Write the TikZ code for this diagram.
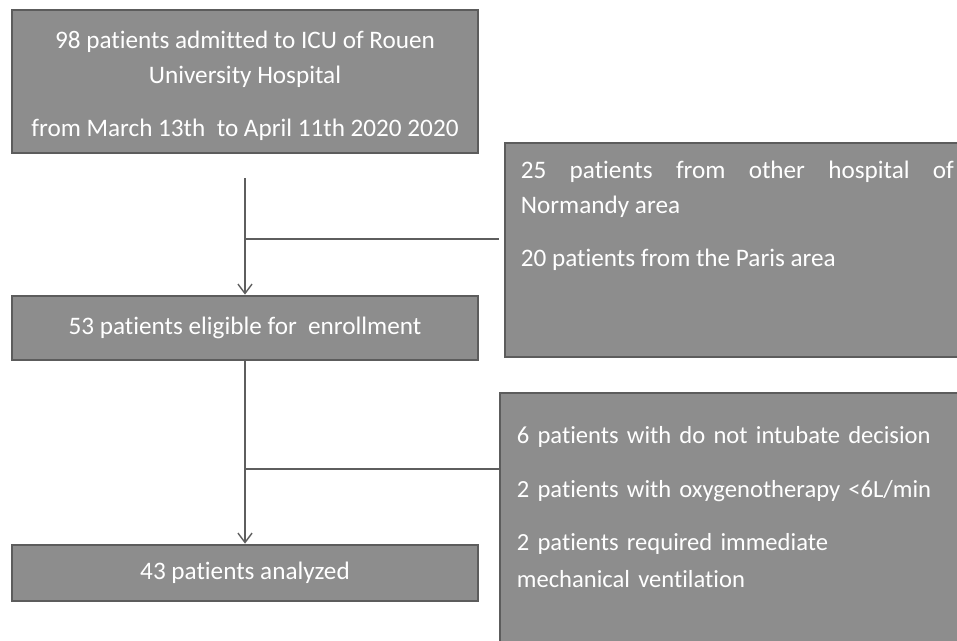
\documentclass[tikz,border=0pt]{standalone}
\usepackage{fontspec}
\setmainfont{Carlito}[Ligatures=NoCommon]
\usetikzlibrary{arrows.meta,positioning}
\definecolor{boxgray}{HTML}{8D8D8D}
\definecolor{edgegray}{HTML}{5C5C5C}
\definecolor{linegray}{HTML}{5E5E5E}
\newcommand\px{0.03cm}
\tikzset{
  box/.style={draw=edgegray, line width=2.3pt, fill=boxgray, inner sep=0pt},
  boxtext/.style={text=white, font=\fontsize{21.5}{30}\selectfont, inner sep=0pt},
  flow/.style={draw=linegray, line width=1.2pt},
  flowarrow/.style={flow, -{Straight Barb[length=8pt,width=12pt]}},
}
\begin{document}
\begin{tikzpicture}[x=\px, y=-\px]
\useasboundingbox (0,0) rectangle (957,640);
\clip (0,0) rectangle (957,640);
% left column
\node[box, minimum width=466*\px, minimum height=143*\px] (admitted) at (245,81.5) {};
\node[boxtext, align=center] (admittedtxt) at ([yshift=-4*\px]admitted.center)
  {98 patients admitted to ICU of Rouen\\University Hospital\\[15pt]from March 13th\ \ to April 11th 2020 2020};
\node[box, boxtext, minimum width=466*\px, minimum height=64*\px] (eligible) at (245,328)
  {53 patients eligible for\ \ enrollment};
\node[box, boxtext, minimum width=466*\px, minimum height=56*\px] (analyzed) at (245,573)
  {43 patients analyzed};
% right column
\node[box, minimum width=470*\px, minimum height=214*\px] (excl1) at (740,250) {};
\node[boxtext, anchor=north west, text width=433*\px, align=justify] (excl1txt) at ([shift={(17,19)}]excl1.north west)
  {\hyphenpenalty=10000 25 patients from other hospital of Normandy area\par\vspace{15pt}
   \raggedright 20 patients from the Paris area};
\node[box, minimum width=476*\px, minimum height=270*\px] (excl2) at (738,528) {};
\node[boxtext, font=\fontsize{21}{31.5}\selectfont, anchor=north west, text width=440*\px, align=left] (excl2txt) at ([shift={(18,35)}]excl2.north west)
  {6 patients with do not intubate decision\\[14pt]
   2 patients with oxygenotherapy <6L/min\\[14pt]
   2 patients required immediate\\mechanical ventilation};
% connectors
\coordinate (start1) at (245,178);
\coordinate (split1) at (245,239);
\coordinate (split2) at (245,469);
\draw[flowarrow] (start1) -- (eligible.north);
\draw[flow] (split1) -- ([xshift=-4pt]split1 -| excl1.west);
\draw[flowarrow] (eligible.south) -- (analyzed.north);
\draw[flow] (split2) -- (split2 -| excl2.west);
\end{tikzpicture}
\end{document}
